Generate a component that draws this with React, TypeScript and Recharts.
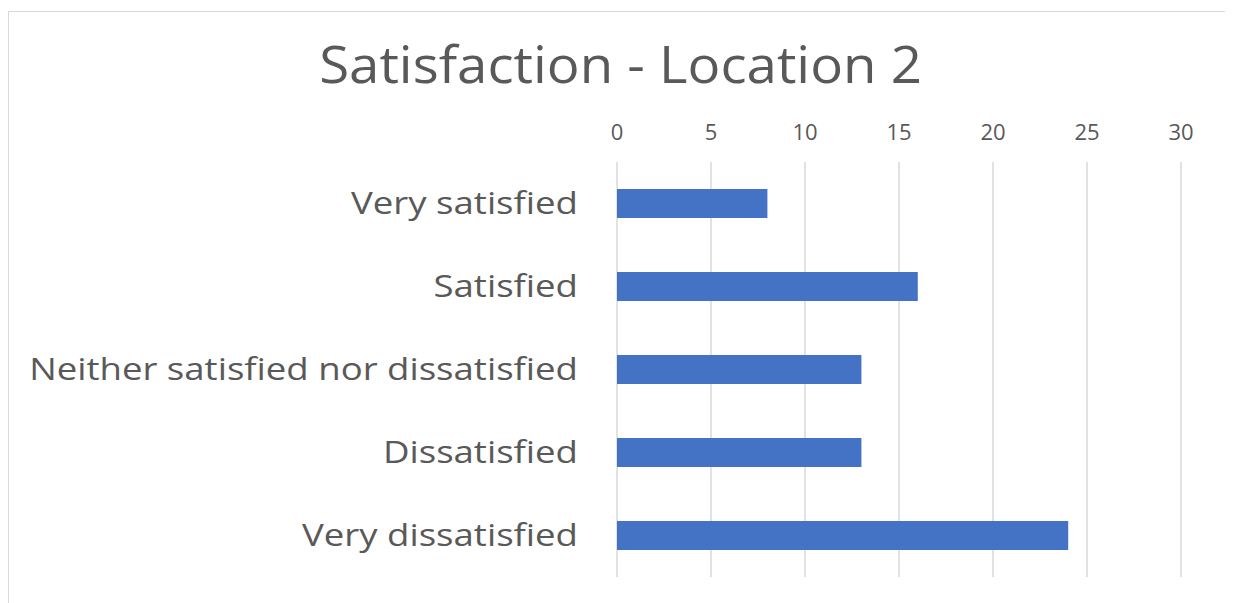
import React from "react";
import { BarChart, Bar, XAxis, YAxis, CartesianGrid } from "recharts";

const categories = [
  "Very satisfied",
  "Satisfied",
  "Neither satisfied nor dissatisfied",
  "Dissatisfied",
  "Very dissatisfied",
];
const values = [8, 16, 13, 13, 24];
const xTicks = [0, 5, 10, 15, 20, 25, 30];
const title = "Satisfaction - Location 2";

const data = categories.map((c, i) => ({ name: c, value: values[i] }));

const FONT = "'Open Sans', 'Noto Sans', sans-serif";
const GREY = "#595959";

function CategoryTick(props: any) {
  const { x, y, payload } = props;
  return (
    <g transform={`translate(${x},${y})`}>
      <text
        transform="scale(1.18,1)"
        textAnchor="end"
        dy="0.35em"
        fill={GREY}
        fontSize={31}
        fontFamily={FONT}
      >
        {payload.value}
      </text>
    </g>
  );
}

export default function App() {
  return (
    <div
      style={{
        position: "relative",
        width: 1223,
        height: 600,
        border: "1px solid #d9d9d9",
        marginTop: 3,
        background: "#fff",
        fontFamily: FONT,
      }}
    >
      <div
        style={{
          position: "absolute",
          left: 0,
          width: "100%",
          top: 18,
          textAlign: "center",
          fontSize: 52,
          color: GREY,
          fontFamily: FONT,
          lineHeight: "66px",
          transform: "scaleX(1.05)",
        }}
      >
        {title}
      </div>
      <BarChart
        width={1223}
        height={590}
        data={data}
        layout="vertical"
        margin={{ top: 120, right: 51, bottom: 25, left: 0 }}
        barCategoryGap="32%"
      >
        <CartesianGrid horizontal={false} vertical={true} stroke="#d9d9d9" strokeWidth={1.5} />
        <XAxis
          type="number"
          orientation="top"
          domain={[0, 30]}
          ticks={xTicks}
          height={30}
          axisLine={false}
          tickLine={false}
          tickSize={0}
          tickMargin={22}
          tick={{ fill: GREY, fontSize: 22, fontFamily: FONT }}
        />
        <YAxis
          type="category"
          dataKey="name"
          width={608}
          axisLine={false}
          tickLine={false}
          tickSize={0}
          tickMargin={39}
          interval={0}
          tick={<CategoryTick />}
        />
        <Bar dataKey="value" fill="#4472C4" barSize={29} isAnimationActive={false} />
      </BarChart>
    </div>
  );
}
